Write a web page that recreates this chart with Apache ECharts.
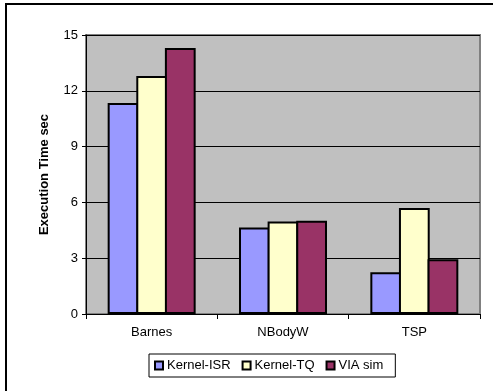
<!DOCTYPE html>
<html>
<head>
<meta charset="utf-8">
<script src="https://cdn.jsdelivr.net/npm/echarts@6/dist/echarts.min.js"></script>
<style>
  html, body { margin: 0; padding: 0; background: #fff; }
  #chart { width: 493px; height: 391px; }
</style>
</head>
<body>
<div id="chart"></div>
<script>
// Benchmarks and measured execution times (seconds)
const categories = ['Barnes', 'NBodyW', 'TSP'];
const kernelISR = [11.35, 4.65, 2.25];
const kernelTQ = [12.8, 4.97, 5.7];
const viaSim = [14.3, 5.02, 2.95];
const yTicks = [0, 3, 6, 9, 12, 15];

const FONT = '"Liberation Sans", Arial, sans-serif';

const chart = echarts.init(document.getElementById('chart'), null, { renderer: 'canvas' });

function barSeries(name, data, color) {
  return {
    name: name,
    type: 'bar',
    data: data,
    barGap: '-7%',
    barCategoryGap: '33%',
    itemStyle: { color: color, borderColor: '#000', borderWidth: 2 },
    emphasis: { disabled: true },
    animation: false
  };
}

chart.setOption({
  animation: false,
  backgroundColor: '#fff',
  textStyle: { fontFamily: FONT },
  graphic: [
    {
      type: 'polyline',
      shape: { points: [[6, 400], [6, 4], [500, 4]] },
      style: { stroke: '#000', lineWidth: 2, fill: null },
      silent: true
    }
  ],
  grid: {
    left: 86, right: 13, top: 35, bottom: 77,
    show: true,
    backgroundColor: '#C0C0C0',
    borderColor: '#808080',
    borderWidth: 2
  },
  legend: {
    left: 149, top: 354,
    padding: [5, 12, 5, 5],
    itemGap: 11,
    itemWidth: 8, itemHeight: 8,
    icon: 'rect',
    borderColor: '#000', borderWidth: 1,
    backgroundColor: '#fff',
    textStyle: { fontFamily: FONT, fontSize: 13, color: '#000', padding: [0, 0, 0, -1] },
    itemStyle: { borderColor: '#000', borderWidth: 2 },
    data: ['Kernel-ISR', 'Kernel-TQ', 'VIA sim']
  },
  xAxis: {
    type: 'category',
    data: categories,
    axisLine: { lineStyle: { color: '#000', width: 1 } },
    axisTick: { show: true, alignWithLabel: false, length: 5, lineStyle: { color: '#000' } },
    axisLabel: { fontFamily: FONT, fontSize: 13, color: '#000', margin: 12 },
    splitLine: { show: false }
  },
  yAxis: {
    type: 'value',
    min: yTicks[0], max: yTicks[yTicks.length - 1], interval: 3,
    name: 'Execution Time sec',
    nameLocation: 'middle',
    nameGap: 35,
    nameTextStyle: { fontFamily: FONT, fontSize: 13, fontWeight: 'bold', color: '#000' },
    axisLine: { show: true, lineStyle: { color: '#000', width: 1 } },
    axisTick: { show: true, length: 4, lineStyle: { color: '#000' } },
    axisLabel: { fontFamily: FONT, fontSize: 13, color: '#000', margin: 8 },
    splitLine: { show: true, lineStyle: { color: '#000', width: 1 } }
  },
  series: [
    barSeries('Kernel-ISR', kernelISR, '#9999FF'),
    barSeries('Kernel-TQ', kernelTQ, '#FFFFCC'),
    barSeries('VIA sim', viaSim, '#993366')
  ]
});
</script>
</body>
</html>
